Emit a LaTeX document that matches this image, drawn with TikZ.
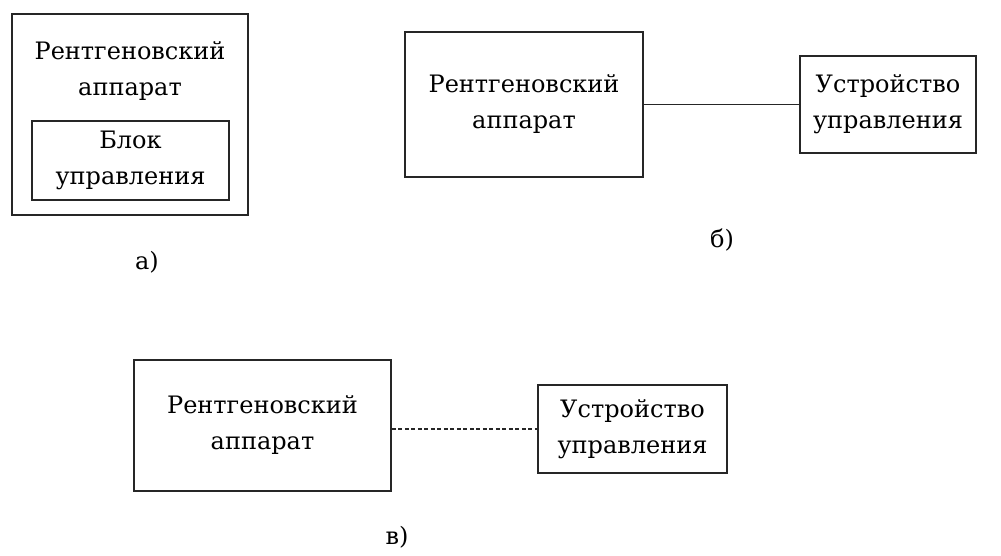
\documentclass[tikz,border=0pt]{standalone}
\usepackage{fontspec}
\setmainfont{DejaVu Serif}
\usetikzlibrary{positioning}

\begin{document}
\begin{tikzpicture}[x=1pt,y=-1pt,
	box/.style={draw=black!85,line width=1.5pt,align=center,inner sep=0pt,font=\fontsize{24}{36}\selectfont},
	txt/.style={align=center,inner sep=0pt,font=\fontsize{24}{36}\selectfont},
	link/.style={draw=black!85,line width=1.5pt}]
	\useasboundingbox (0,0) rectangle (1001,555);
	% а)
	\node[box,minimum width=236pt,minimum height=201pt] (apparatA) at (130,114.5) {};
	\node[txt] (apparatAtext) at (130,71) {Рентгеновский\\аппарат};
	\node[box,minimum width=197pt,minimum height=79pt] (blockA) at (130.5,160.5) {Блок\\управления};
	\node[txt] (labelA) at (147,262) {а)};
	% б)
	\node[box,minimum width=238pt,minimum height=145pt] (apparatB) at (524,104.5) {Рентгеновский\\аппарат};
	\node[box,minimum width=176pt,minimum height=97pt] (deviceB) at (888,104.5) {Устройство\\управления};
	\draw[link] (apparatB) -- (deviceB);
	\node[txt] (labelB) at (722,240) {б)};
	% в)
	\node[box,minimum width=257pt,minimum height=131pt] (apparatC) at (262.5,425.5) {Рентгеновский\\аппарат};
	\node[box,minimum width=189pt,minimum height=88pt] (deviceC) at (632.5,429) {Устройство\\управления};
	\draw[link,dash pattern=on 4pt off 2.5pt] (apparatC.east |- deviceC.west) -- (deviceC.west);
	\node[txt] (labelC) at (397,537) {в)};
\end{tikzpicture}
\end{document}
